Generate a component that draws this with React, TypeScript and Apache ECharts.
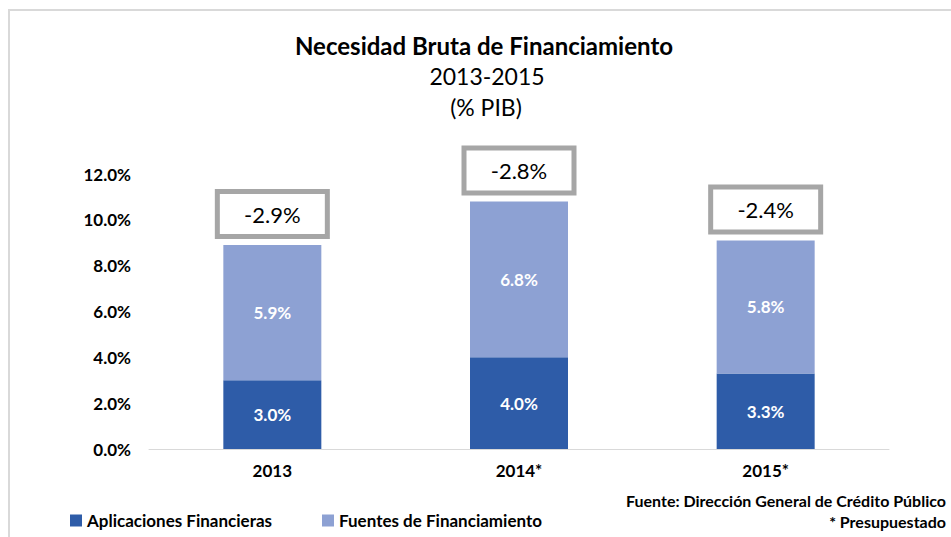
import React, { useEffect, useRef } from "react";
import * as echarts from "echarts";

const categories = ["2013", "2014*", "2015*"];
const aplicaciones = [3.0, 4.0, 3.3];
const fuentes = [5.9, 6.8, 5.8];
const netos = [-2.9, -2.8, -2.4];
const yTicks = { min: 0, max: 12, interval: 2 };

const FONT = "Lato";
const DARK = "#2E5CA8";
const LIGHT = "#8DA1D3";

export default function App() {
  const ref = useRef<HTMLDivElement>(null);
  useEffect(() => {
    if (!ref.current) return;
    const chart = echarts.init(ref.current, null, { renderer: "svg" });
    const totals = aplicaciones.map((v, i) => +(v + fuentes[i]).toFixed(1));
    const barLabel = {
      show: true,
      position: "inside",
      color: "#fff",
      fontFamily: FONT,
      fontSize: 17,
      fontWeight: "bold",
      formatter: (p: any) => p.value.toFixed(1) + "%",
    };
    chart.setOption({
      animation: false,
      backgroundColor: "#fff",
      textStyle: { fontFamily: FONT },
      grid: { left: 149, right: 62, top: 174, bottom: 88 },
      legend: {
        left: 65,
        top: 507,
        icon: "rect",
        itemWidth: 12,
        itemHeight: 12,
        itemGap: 50,
        textStyle: { fontFamily: FONT, fontSize: 17, fontWeight: "bold", color: "#000" },
        data: ["Aplicaciones Financieras", "Fuentes de Financiamiento"],
      },
      xAxis: {
        type: "category",
        data: categories,
        axisLine: { show: true, lineStyle: { color: "#D9D9D9", width: 1 } },
        axisTick: { show: false },
        axisLabel: { fontFamily: FONT, fontSize: 17, fontWeight: "bold", color: "#000", margin: 13 },
      },
      yAxis: {
        type: "value",
        min: yTicks.min,
        max: yTicks.max,
        interval: yTicks.interval,
        splitLine: { show: false },
        axisLine: { show: false },
        axisTick: { show: false },
        axisLabel: {
          fontFamily: FONT,
          fontSize: 17,
          fontWeight: "bold",
          color: "#000",
          margin: 18,
          formatter: (v: number) => v.toFixed(1) + "%",
        },
      },
      series: [
        {
          name: "Aplicaciones Financieras",
          type: "bar",
          stack: "t",
          barWidth: 98,
          data: aplicaciones,
          itemStyle: { color: DARK },
          label: barLabel,
        },
        {
          name: "Fuentes de Financiamiento",
          type: "bar",
          stack: "t",
          barWidth: 98,
          data: fuentes,
          itemStyle: { color: LIGHT },
          label: barLabel,
        },
        {
          name: "Neto",
          type: "custom",
          data: totals.map((t, i) => [i, t]),
          z: 10,
          renderItem: (params: any, api: any) => {
            const i = params.dataIndex;
            const pt = api.coord([api.value(0), api.value(1)]);
            const w = 110;
            const h = 45;
            const gap = 8.5;
            return {
              type: "group",
              children: [
                {
                  type: "rect",
                  shape: { x: pt[0] - w / 2, y: pt[1] - gap - h, width: w, height: h },
                  style: { fill: "#fff", stroke: "#A6A6A6", lineWidth: 5 },
                },
                {
                  type: "text",
                  x: pt[0],
                  y: pt[1] - gap - h / 2,
                  style: {
                    text: netos[i].toFixed(1) + "%",
                    fontFamily: FONT,
                    fontSize: 22,
                    fill: "#000",
                    align: "center",
                    verticalAlign: "middle",
                  },
                },
              ],
            };
          },
        },
      ],
      graphic: [
        {
          type: "rect",
          shape: { x: 9, y: 10, width: 1000, height: 700 },
          style: { fill: "none", stroke: "#D9D9D9", lineWidth: 2 },
          silent: true,
        },
        {
          type: "text",
          x: 484,
          y: 45,
          style: {
            text: "Necesidad Bruta de Financiamiento",
            fontFamily: FONT,
            fontSize: 24,
            fontWeight: "bold",
            fill: "#000",
            align: "center",
            verticalAlign: "middle",
          },
        },
        {
          type: "text",
          x: 487,
          y: 76,
          style: {
            text: "2013-2015",
            fontFamily: FONT,
            fontSize: 23,
            fill: "#000",
            align: "center",
            verticalAlign: "middle",
          },
        },
        {
          type: "text",
          x: 486,
          y: 107,
          style: {
            text: "(% PIB)",
            fontFamily: FONT,
            fontSize: 23,
            fill: "#000",
            align: "center",
            verticalAlign: "middle",
          },
        },
        {
          type: "text",
          x: 946,
          y: 500,
          style: {
            text: "Fuente: Dirección General de Crédito Público",
            fontFamily: FONT,
            fontSize: 16,
            fontWeight: "bold",
            fill: "#000",
            align: "right",
            verticalAlign: "middle",
          },
        },
        {
          type: "text",
          x: 946,
          y: 521,
          style: {
            text: "* Presupuestado",
            fontFamily: FONT,
            fontSize: 16,
            fontWeight: "bold",
            fill: "#000",
            align: "right",
            verticalAlign: "middle",
          },
        },
      ],
    });
    return () => chart.dispose();
  }, []);
  return (
    <div
      ref={ref}
      style={{ position: "fixed", left: 0, top: 0, width: 951, height: 537 }}
    />
  );
}
